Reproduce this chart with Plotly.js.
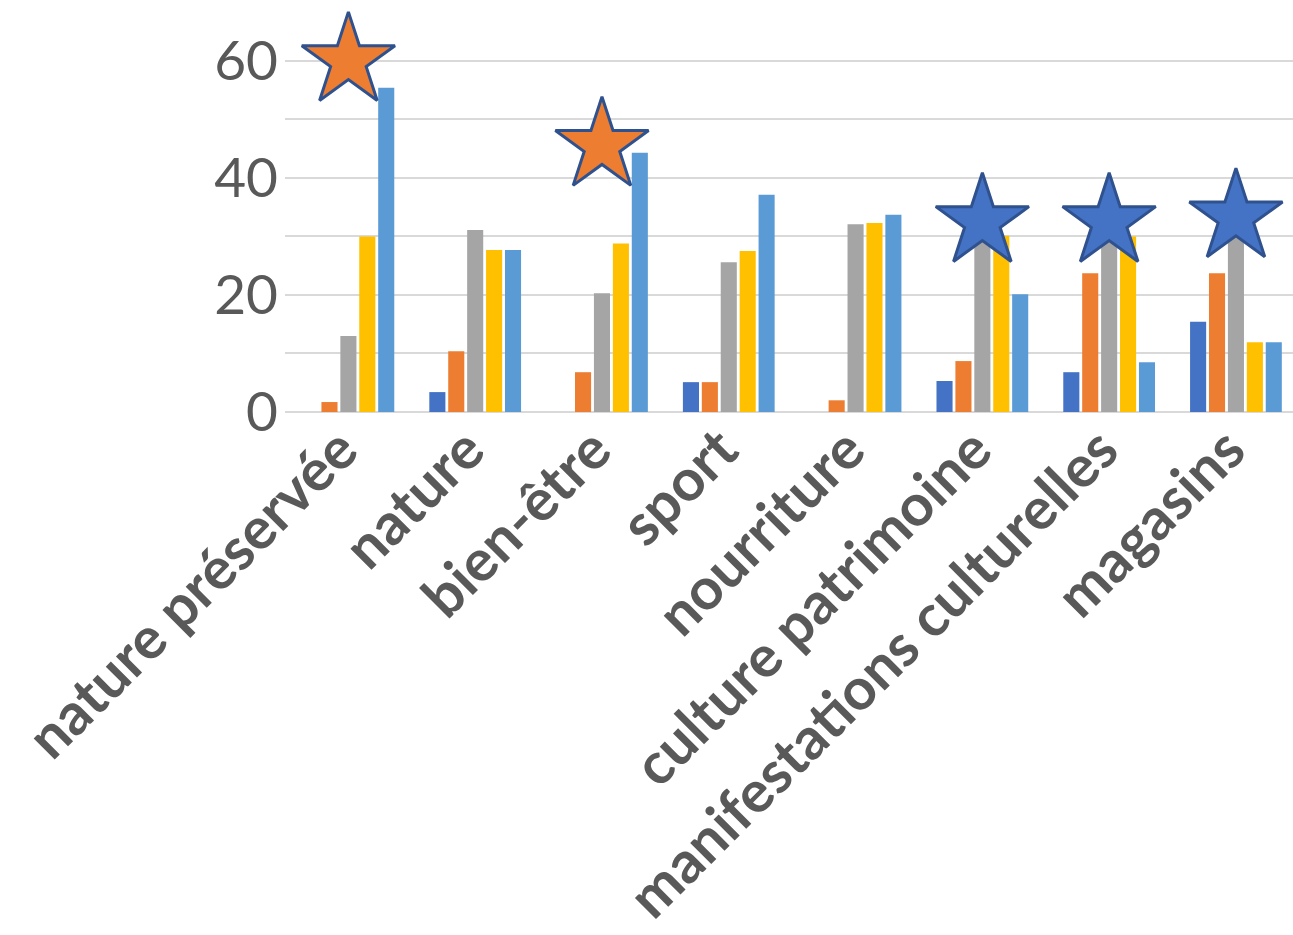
<!DOCTYPE html>
<html>
<head>
<meta charset="utf-8">
<script src="https://cdn.plot.ly/plotly-3.0.1.min.js"></script>
<style>html,body{margin:0;padding:0;background:#fff;}#chart{width:1293px;height:935px;}</style>
</head>
<body>
<div id="chart"></div>
<script>
var categories = ["nature préservée", "nature", "bien-être", "sport", "nourriture", "culture patrimoine", "manifestations culturelles", "magasins"];
var seriesBlue      = [0, 3.4, 0, 5.1, 0, 5.3, 6.8, 15.4];
var seriesOrange    = [1.7, 10.4, 6.8, 5.1, 2.0, 8.7, 23.7, 23.7];
var seriesGray      = [13.0, 31.1, 20.3, 25.6, 32.1, 31.0, 30.0, 37.4];
var seriesYellow    = [30.0, 27.7, 28.8, 27.5, 32.3, 30.1, 30.0, 11.9];
var seriesLightBlue = [55.4, 27.7, 44.3, 37.1, 33.7, 20.1, 8.5, 11.9];
var orangeStarCats  = ["nature préservée", "bien-être"];
var orangeStarVals  = [60, 45.5];
var blueStarCats    = ["culture patrimoine", "manifestations culturelles", "magasins"];
var blueStarVals    = [32.5, 32.5, 33.3];
var yTickVals = [0, 20, 40, 60];
var yTickText = ["0", "20", "40", "60"];

var colors = ["#4472C4", "#ED7D31", "#A5A5A5", "#FFC000", "#5B9BD5"];
var allSeries = [seriesBlue, seriesOrange, seriesGray, seriesYellow, seriesLightBlue];
var traces = allSeries.map(function (s, i) {
  return { type: "bar", x: categories, y: s, marker: { color: colors[i] }, hoverinfo: "none" };
});
traces.push({
  type: "scatter", mode: "markers", x: orangeStarCats, y: orangeStarVals, cliponaxis: false,
  marker: { symbol: "star", size: 70, color: "#ED7D31", line: { color: "#2F528F", width: 3 } }
});
traces.push({
  type: "scatter", mode: "markers", x: blueStarCats, y: blueStarVals, cliponaxis: false,
  marker: { symbol: "star", size: 70, color: "#4472C4", line: { color: "#2F528F", width: 3 } }
});

var layout = {
  width: 1293, height: 935,
  margin: { l: 285, r: 0, t: 55, b: 523, pad: 0 },
  paper_bgcolor: "#fff", plot_bgcolor: "#fff",
  showlegend: false,
  barmode: "group", bargap: 0.254, bargroupgap: 0.15,
  xaxis: {
    type: "category", automargin: false, tickangle: -45,
    range: [-0.5, 7.45], autorange: false,
    tickfont: { family: "Lato", size: 58, color: "#595959", weight: "bold" },
    showgrid: false, zeroline: false, showline: false, ticks: "",
    ticklabelstandoff: -9, ticklabelshift: -8
  },
  yaxis: {
    range: [0, 61], autorange: false, automargin: false,
    tickvals: yTickVals, ticktext: yTickText,
    tickfont: { family: "Lato", size: 55, color: "#595959" },
    showgrid: true, gridcolor: "#D9D9D9", gridwidth: 2,
    minor: { dtick: 10, tick0: 0, showgrid: true, gridcolor: "#D9D9D9", gridwidth: 2 },
    zeroline: true, zerolinecolor: "#D9D9D9", zerolinewidth: 2,
    showline: false, ticks: "", ticklabelstandoff: 6
  }
};
Plotly.newPlot("chart", traces, layout, { displayModeBar: false, staticPlot: true });
</script>
</body>
</html>
